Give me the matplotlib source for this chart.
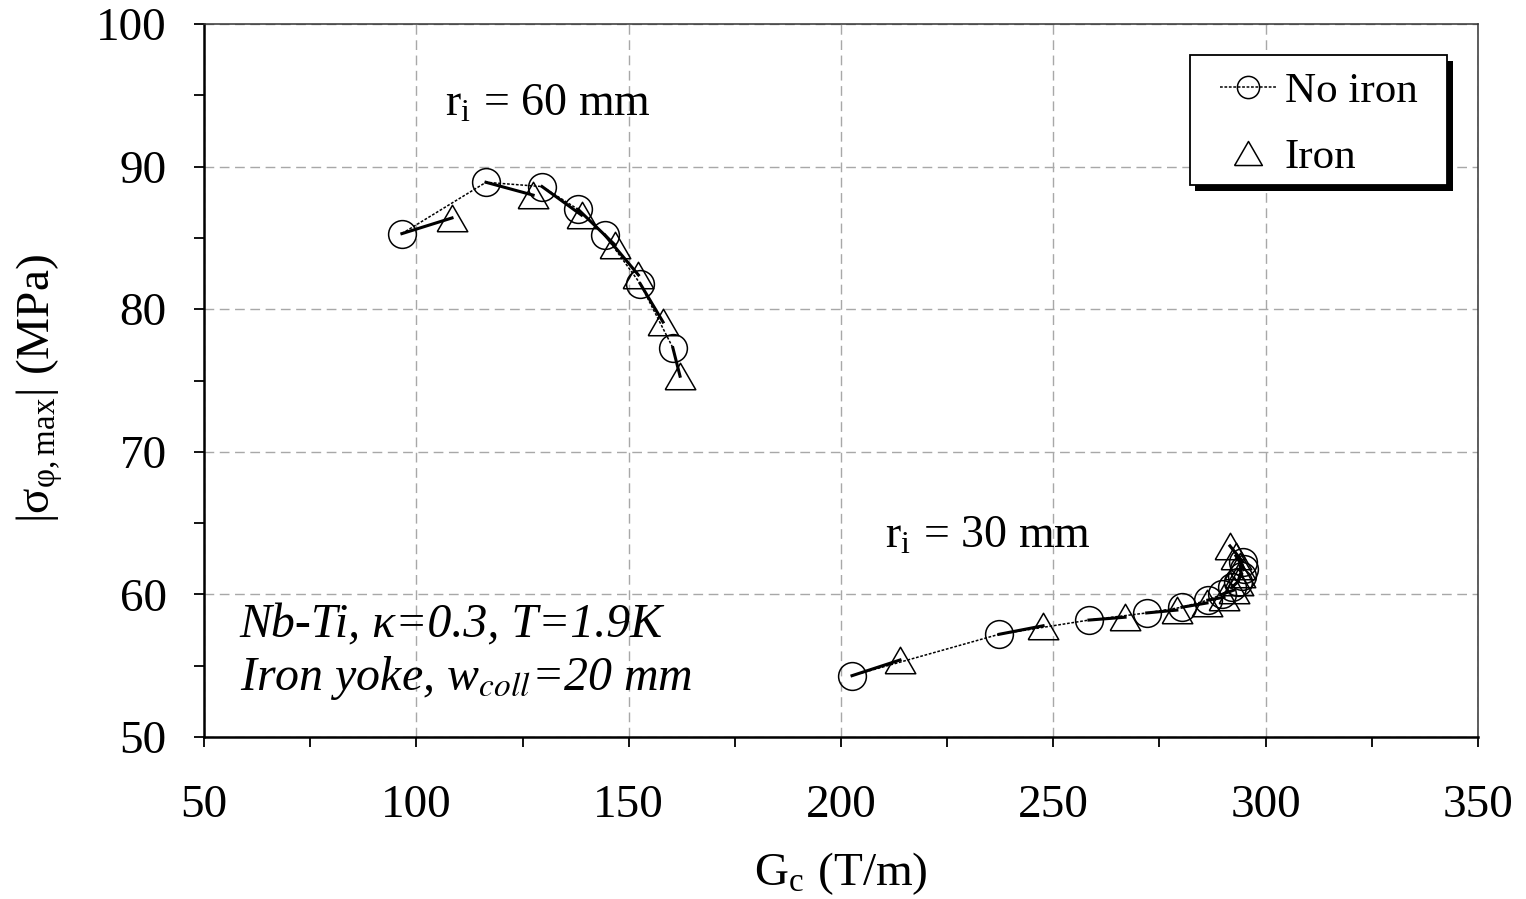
import matplotlib
matplotlib.use("Agg")
import matplotlib.pyplot as plt
import matplotlib.patheffects as pe
from matplotlib.lines import Line2D
from matplotlib.patches import Rectangle
from matplotlib.ticker import MultipleLocator

plt.rcParams['font.family'] = ['Liberation Serif', 'DejaVu Serif']
plt.rcParams['mathtext.fontset'] = 'stix'

# r_i = 60 mm
g60_noiron = [96.6, 116.4, 129.6, 138.1, 144.4, 152.7, 160.4]
s60_noiron = [85.3, 88.9, 88.6, 87.0, 85.2, 81.8, 77.3]
g60_iron = [108.4, 127.5, 138.9, 146.8, 152.3, 158.1, 162.1]
s60_iron = [86.4, 88.0, 86.6, 84.5, 82.4, 79.1, 75.3]

# r_i = 30 mm
g30_noiron = [202.6, 237.2, 258.4, 272.0, 280.3, 286.4, 289.7, 292.1, 293.5, 294.4, 294.9, 294.6]
s30_noiron = [54.3, 57.2, 58.2, 58.7, 59.1, 59.6, 60.0, 60.5, 60.9, 61.3, 61.8, 62.3]
g30_iron = [213.9, 247.6, 266.9, 279.1, 286.2, 290.2, 292.5, 293.5, 294.0, 294.0, 293.0, 291.6]
s30_iron = [55.4, 57.8, 58.4, 58.9, 59.4, 59.8, 60.3, 60.9, 61.4, 62.0, 62.7, 63.4]

xticks = [50, 100, 150, 200, 250, 300, 350]
yticks = [50, 60, 70, 80, 90, 100]

tri = [(-1, -0.866), (1, -0.866), (0, 0.866), (-1, -0.866)]
dotted = (0, (1.8, 1.1))

fig = plt.figure(figsize=(15.26, 8.99), dpi=100)
ax = fig.add_axes([0.1337, 0.1802, 0.9685 - 0.1337, 0.9733 - 0.1802])

for gn, sn, gi, si in [(g60_noiron, s60_noiron, g60_iron, s60_iron),
                       (g30_noiron, s30_noiron, g30_iron, s30_iron)]:
    # no-iron -> iron shift for each design
    for a, b, c, d in zip(gn, sn, gi, si):
        ax.plot([a, c], [b, d], color='black', lw=2.2, zorder=3)
    ax.plot(gn, sn, color='black', lw=1.1, ls=dotted, marker='o', ms=20,
            mfc='none', mec='black', mew=1.1, zorder=4)
    ax.plot(gi, si, ls='none', marker=tri, ms=22, mfc='none', mec='black',
            mew=1.1, zorder=4)

ax.set_xlim(50, 350)
ax.set_ylim(50, 100)
ax.set_xticks(xticks)
ax.set_yticks(yticks)
ax.xaxis.set_minor_locator(MultipleLocator(25))
ax.yaxis.set_minor_locator(MultipleLocator(5))
ax.tick_params(axis='both', which='both', direction='out', length=7, width=1.3,
               labelsize=34, top=False, right=False)
ax.tick_params(axis='x', which='major', pad=27)
ax.tick_params(axis='y', which='major', pad=20)

ax.grid(True, which='major', color='#a8a8a8', lw=1.0, ls=(0, (7, 4)))
for s in ['left', 'bottom']:
    ax.spines[s].set_linewidth(1.8)
for s in ['top', 'right']:
    ax.spines[s].set_linewidth(1.1)
    ax.spines[s].set_color('#333333')

ax.set_xlabel(r'G$_\mathregular{c}$ (T/m)', fontsize=34)
ax.xaxis.set_label_coords(0.5, -0.2076)
ax.xaxis.label.set_va('baseline')
ax.set_ylabel(r'|σ$_\mathregular{φ,max}$| (MPa)', fontsize=34)
ax.yaxis.set_label_coords(-0.1287, 0.488)
ax.yaxis.label.set_va('center')

ax.text(0.189, 0.872, r'r$_\mathregular{i}$ = 60 mm', transform=ax.transAxes,
        fontsize=33, va='baseline')
ax.text(0.5345, 0.2665, r'r$_\mathregular{i}$ = 30 mm', transform=ax.transAxes,
        fontsize=33, va='baseline')
ax.text(0.028, 0.140, 'Nb-Ti, κ=0.3, T=1.9K', transform=ax.transAxes,
        fontsize=34.5, style='italic', va='baseline')
ax.text(0.028, 0.066, r'Iron yoke, w$_{coll}$=20 mm', transform=ax.transAxes,
        fontsize=34.5, style='italic', va='baseline')

# legend box with a solid drop shadow
box = Rectangle((0.7739, 0.7742), 0.2018, 0.1823, transform=ax.transAxes,
                facecolor='white', edgecolor='black', lw=1.3, zorder=5)
box.set_path_effects([
    pe.SimplePatchShadow(offset=(4, -4), shadow_rgbFace='black', alpha=1),
    pe.Normal()])
ax.add_patch(box)

handles = [
    Line2D([], [], color='black', lw=1.1, ls=dotted, marker='o', ms=16,
           mfc='none', mec='black', mew=1.1),
    Line2D([], [], ls='none', marker=tri, ms=20, mfc='none', mec='black', mew=1.1),
]
leg = ax.legend(handles, ['No iron', 'Iron'], loc='upper left',
                bbox_to_anchor=(0.7975, 0.9326), fontsize=31, frameon=False,
                handlelength=1.3, handletextpad=0.2, labelspacing=0.62,
                borderpad=0, borderaxespad=0)
leg.set_zorder(6)

fig.savefig('out.png', dpi=100)
